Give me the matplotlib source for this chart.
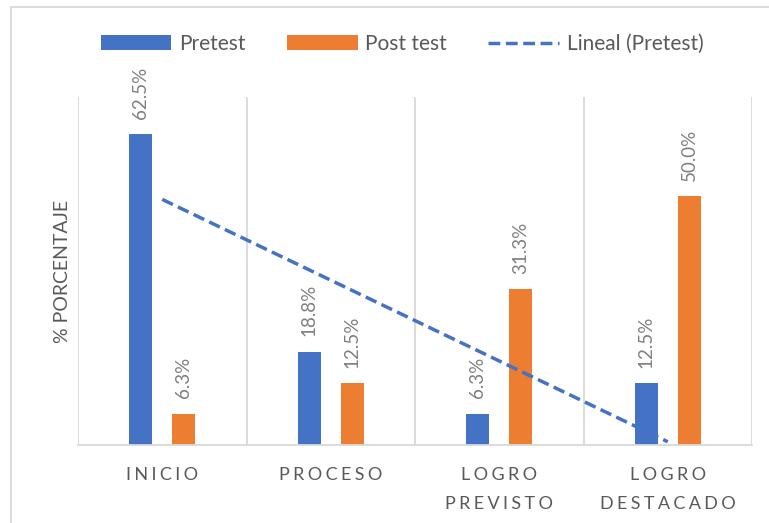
import numpy as np
import matplotlib.pyplot as plt
from matplotlib.patches import Rectangle

plt.rcParams['font.family'] = ['Lato', 'DejaVu Sans']

categorias = ['INICIO', 'PROCESO', 'LOGRO\nPREVISTO', 'LOGRO\nDESTACADO']
pretest = [62.5, 18.8, 6.3, 12.5]
post_test = [6.3, 12.5, 31.3, 50.0]
etiquetas_pre = ['62.5%', '18.8%', '6.3%', '12.5%']
etiquetas_post = ['6.3%', '12.5%', '31.3%', '50.0%']

azul = '#4472C4'
naranja = '#ED7D31'
gris_txt = '#595959'
gris_lbl = '#7F7F7F'
gris_lin = '#D9D9D9'

W, H = 769, 523
fig = plt.figure(figsize=(W / 100, H / 100), dpi=100)
ax = fig.add_axes([78 / W, 1 - 445 / H, (752 - 78) / W, (445 - 97) / H])

x = np.arange(1, len(categorias) + 1)
off, bw = 0.128, 0.137
b1 = ax.bar(x - off, pretest, bw, color=azul, label='Pretest', zorder=2)
b2 = ax.bar(x + off, post_test, bw, color=naranja, label='Post test', zorder=2)

# linea de tendencia lineal del pretest
m, b = np.polyfit(x, pretest, 1)
tend, = ax.plot(x, m * x + b, color=azul, lw=2.5, dashes=(3.4, 1.6), dash_capstyle='butt',
                label='Lineal (Pretest)', zorder=3)

for barras, etq in [(b1, etiquetas_pre), (b2, etiquetas_post)]:
    for r, t in zip(barras, etq):
        ax.annotate(t, (r.get_x() + r.get_width() / 2, r.get_height()),
                    xytext=(0, 11), textcoords='offset points', rotation=90,
                    ha='center', va='bottom', fontsize=13.5, color=gris_lbl)

ax.set_xlim(0.5, len(categorias) + 0.5)
ax.set_ylim(0, 70)
ax.set_yticks([])
ax.set_xticks(x)
sp = '\u2009\u200a'
ax.set_xticklabels(['\n'.join(sp.join(p) for p in c.split('\n')) for c in categorias],
                   fontsize=13, color=gris_txt, linespacing=2.0)
ax.tick_params(axis='x', length=0, pad=16)
ax.set_xticks(np.arange(0.5, len(categorias) + 1), minor=True)
ax.tick_params(axis='x', which='minor', length=0)
ax.grid(axis='x', which='minor', color=gris_lin, lw=1.3, zorder=0)
for s in ['left', 'right', 'top']:
    ax.spines[s].set_visible(False)
ax.spines['bottom'].set_color(gris_lin)
ax.spines['bottom'].set_linewidth(1.3)

fig.text(63 / W, 1 - 271 / H, '% PORCENTAJE', rotation=90, ha='center', va='center',
         fontsize=14, color=gris_txt)

fig.legend(handles=[b1, b2, tend], loc='center', bbox_to_anchor=(402 / W, 1 - 44 / H),
           ncol=3, frameon=False, fontsize=15, handlelength=3.4, handleheight=0.7,
           handletextpad=0.35, columnspacing=2.0, labelcolor=gris_txt)

fig.patches.append(Rectangle((11 / W, -0.05), 1.0, 1 - 7 / H + 0.05, transform=fig.transFigure,
                             fill=False, edgecolor=gris_lin, lw=1.3))

fig.savefig('out.png', dpi=100)
